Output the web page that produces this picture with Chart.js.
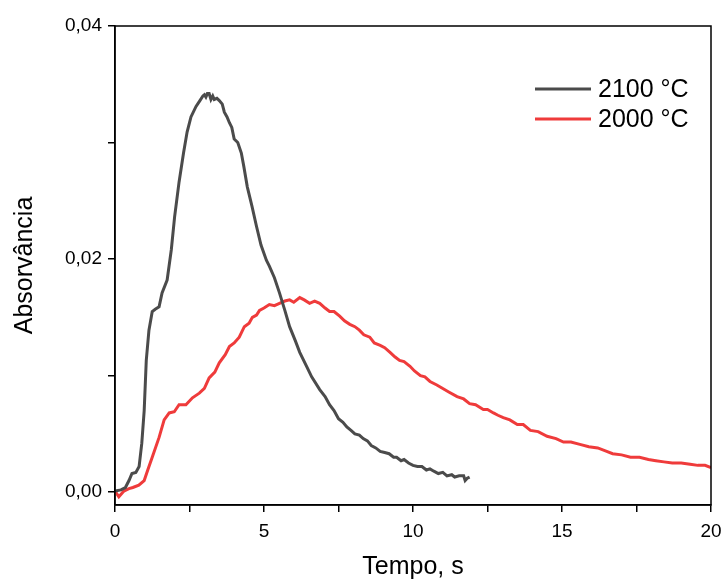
<!DOCTYPE html>
<html>
<head>
<meta charset="utf-8">
<script src="https://cdn.jsdelivr.net/npm/chart.js@4/dist/chart.umd.min.js"></script>
<style>
  html, body { margin: 0; padding: 0; background: #fff; }
  #wrap { width: 723px; height: 580px; }
</style>
</head>
<body>
<div id="wrap"><canvas id="absChart" width="723" height="580"></canvas></div>
<script>
// 2100 °C
const t2100 = [0, 0.2, 0.35, 0.47, 0.57, 0.7, 0.81, 0.9, 0.98, 1.05, 1.14, 1.25, 1.35, 1.48, 1.58, 1.75, 1.89, 2.0, 2.15, 2.3, 2.42, 2.55, 2.72, 2.85, 2.95, 3.0, 3.05, 3.1, 3.16, 3.22, 3.28, 3.33, 3.42, 3.5, 3.6, 3.67, 3.76, 3.84, 3.92, 4.0, 4.12, 4.24, 4.32, 4.44, 4.6, 4.75, 4.9, 5.08, 5.18, 5.35, 5.52, 5.7, 5.86, 6.05, 6.2, 6.43, 6.6, 6.87, 7.05, 7.2, 7.35, 7.5, 7.65, 7.78, 7.92, 8.05, 8.2, 8.33, 8.47, 8.6, 8.75, 8.9, 9.05, 9.2, 9.35, 9.45, 9.6, 9.7, 9.85, 10.0, 10.15, 10.3, 10.45, 10.57, 10.7, 10.85, 11.0, 11.14, 11.3, 11.4, 11.55, 11.7, 11.75, 11.82, 11.9];
const a2100 = [0.0001, 0.0002, 0.0004, 0.001, 0.0016, 0.0017, 0.0022, 0.0042, 0.007, 0.0113, 0.0139, 0.0155, 0.0157, 0.0159, 0.0171, 0.0182, 0.0208, 0.0236, 0.0266, 0.0291, 0.0309, 0.0322, 0.0331, 0.0336, 0.0340, 0.0341, 0.0339, 0.0342, 0.0342, 0.0337, 0.0340, 0.0337, 0.0338, 0.0336, 0.0333, 0.0326, 0.0322, 0.0317, 0.0313, 0.0303, 0.0300, 0.0291, 0.0280, 0.0262, 0.0245, 0.0228, 0.0212, 0.0199, 0.0194, 0.0184, 0.0171, 0.0156, 0.0142, 0.0130, 0.0120, 0.0108, 0.0099, 0.0088, 0.0082, 0.0075, 0.0070, 0.0063, 0.0060, 0.0056, 0.0053, 0.0050, 0.0049, 0.0046, 0.0044, 0.0040, 0.0038, 0.0035, 0.0034, 0.0033, 0.0030, 0.0030, 0.0027, 0.0028, 0.0025, 0.0023, 0.0022, 0.0022, 0.0019, 0.0020, 0.0018, 0.0016, 0.0017, 0.0014, 0.0015, 0.0013, 0.0014, 0.0014, 0.0010, 0.0012, 0.0013];

// 2000 °C
const t2000 = [0, 0.13, 0.3, 0.47, 0.6, 0.8, 0.98, 1.1, 1.25, 1.48, 1.65, 1.82, 1.99, 2.15, 2.38, 2.6, 2.83, 3.0, 3.16, 3.35, 3.5, 3.7, 3.84, 4.0, 4.17, 4.34, 4.5, 4.61, 4.75, 4.85, 5.0, 5.18, 5.35, 5.52, 5.7, 5.86, 6.0, 6.2, 6.35, 6.53, 6.7, 6.87, 7.05, 7.2, 7.35, 7.54, 7.7, 7.88, 8.05, 8.2, 8.35, 8.55, 8.7, 8.9, 9.05, 9.23, 9.4, 9.55, 9.7, 9.9, 10.05, 10.25, 10.4, 10.57, 10.8, 11.0, 11.2, 11.48, 11.7, 11.9, 12.1, 12.36, 12.5, 12.7, 12.85, 13.03, 13.25, 13.5, 13.7, 13.94, 14.2, 14.5, 14.8, 15.05, 15.3, 15.6, 15.9, 16.2, 16.5, 16.7, 17.0, 17.3, 17.6, 17.9, 18.15, 18.42, 18.7, 19.0, 19.3, 19.56, 19.8, 20.0];
const a2000 = [0.0001, -0.0004, 0.0001, 0.0003, 0.0004, 0.0006, 0.001, 0.0019, 0.003, 0.0047, 0.0062, 0.0068, 0.0069, 0.0075, 0.0075, 0.0081, 0.0085, 0.0089, 0.0098, 0.0103, 0.0111, 0.0118, 0.0125, 0.0128, 0.0133, 0.0142, 0.0145, 0.015, 0.0152, 0.0156, 0.0158, 0.0161, 0.0160, 0.0162, 0.0164, 0.0165, 0.0163, 0.0167, 0.0165, 0.0162, 0.0164, 0.0162, 0.0158, 0.0155, 0.0155, 0.0151, 0.0147, 0.0144, 0.0142, 0.0139, 0.0135, 0.0133, 0.0128, 0.0126, 0.0124, 0.012, 0.0116, 0.0113, 0.0112, 0.0108, 0.0104, 0.0100, 0.0099, 0.0095, 0.0092, 0.0089, 0.0086, 0.0082, 0.0080, 0.0076, 0.0075, 0.0071, 0.0071, 0.0068, 0.0066, 0.0064, 0.0062, 0.0058, 0.0058, 0.0053, 0.0052, 0.0048, 0.0046, 0.0043, 0.0043, 0.0041, 0.0039, 0.0038, 0.0035, 0.0033, 0.0032, 0.003, 0.0030, 0.0028, 0.0027, 0.0026, 0.0025, 0.0025, 0.0024, 0.0023, 0.0023, 0.0021];

const seriesLabels = ['2100 °C', '2000 °C'];
const seriesColors = ['#4b4b4b', '#ef3b3b'];

const xTickLabels = [0, 5, 10, 15, 20];
const yTickLabels = [0, 0.02, 0.04];

function toPoints(xs, ys) {
  return xs.map((x, i) => ({ x: x, y: ys[i] }));
}

const fontFamily = '"Liberation Sans", Arial, sans-serif';

// box around the plot + legend inside the plot area
const frameAndLegend = {
  id: 'frameAndLegend',
  afterDraw(chart) {
    const { ctx, chartArea } = chart;
    ctx.save();
    ctx.strokeStyle = '#000';
    ctx.lineWidth = 1.5;
    ctx.strokeRect(chartArea.left, chartArea.top, chartArea.right - chartArea.left, chartArea.bottom - chartArea.top);

    ctx.font = '25px ' + fontFamily;
    ctx.textBaseline = 'middle';
    chart.data.datasets.forEach((ds, i) => {
      const y = 89 + i * 30;
      ctx.strokeStyle = ds.borderColor;
      ctx.lineWidth = 3;
      ctx.beginPath();
      ctx.moveTo(535, y);
      ctx.lineTo(591, y);
      ctx.stroke();
      ctx.fillStyle = '#000';
      ctx.fillText(ds.label, 598, y + 1);
    });
    ctx.restore();
  }
};

new Chart(document.getElementById('absChart'), {
  type: 'line',
  data: {
    datasets: [
      {
        label: seriesLabels[0],
        data: toPoints(t2100, a2100),
        borderColor: seriesColors[0],
        borderWidth: 3,
        pointRadius: 0,
        tension: 0
      },
      {
        label: seriesLabels[1],
        data: toPoints(t2000, a2000),
        borderColor: seriesColors[1],
        borderWidth: 3,
        pointRadius: 0,
        tension: 0
      }
    ]
  },
  plugins: [frameAndLegend],
  options: {
    responsive: false,
    animation: false,
    layout: { padding: { top: 26, right: 12, left: 10, bottom: 0 } },
    plugins: {
      legend: { display: false },
      tooltip: { enabled: false }
    },
    scales: {
      x: {
        type: 'linear',
        min: 0,
        max: 20,
        afterFit(scale) {
          scale.height = 75;
          scale.paddingRight = 0;
          scale.paddingLeft = 0;
        },
        border: { display: true, color: '#000', width: 1.5 },
        grid: { drawOnChartArea: false, drawTicks: true, tickLength: 7, color: '#000', lineWidth: 1.5 },
        ticks: {
          stepSize: 2.5,
          color: '#000',
          padding: 8,
          maxRotation: 0,
          autoSkip: false,
          font: { size: 19, family: fontFamily },
          callback: (v) => (xTickLabels.includes(v) ? String(v) : '')
        },
        title: {
          display: true,
          text: 'Tempo, s',
          color: '#000',
          padding: { top: 13, bottom: 0 },
          font: { size: 25, family: fontFamily, lineHeight: 1 }
        }
      },
      y: {
        type: 'linear',
        min: -0.0011,
        max: 0.04,
        afterBuildTicks(scale) {
          scale.ticks = [0, 0.01, 0.02, 0.03, 0.04].map((v) => ({ value: v }));
        },
        afterFit(scale) {
          scale.paddingTop = 0;
          scale.paddingBottom = 0;
        },
        border: { display: true, color: '#000', width: 1.5 },
        grid: { drawOnChartArea: false, drawTicks: true, tickLength: 7, color: '#000', lineWidth: 1.5 },
        ticks: {
          color: '#000',
          padding: 6,
          autoSkip: false,
          font: { size: 19, family: fontFamily },
          callback: (v) => {
            const hit = yTickLabels.find((t) => Math.abs(t - v) < 1e-9);
            return hit === undefined ? '' : hit.toFixed(2).replace('.', ',');
          }
        },
        title: {
          display: true,
          text: 'Absorvância',
          color: '#000',
          padding: { top: 0, bottom: 19 },
          font: { size: 25, family: fontFamily }
        }
      }
    }
  }
});
</script>
</body>
</html>
